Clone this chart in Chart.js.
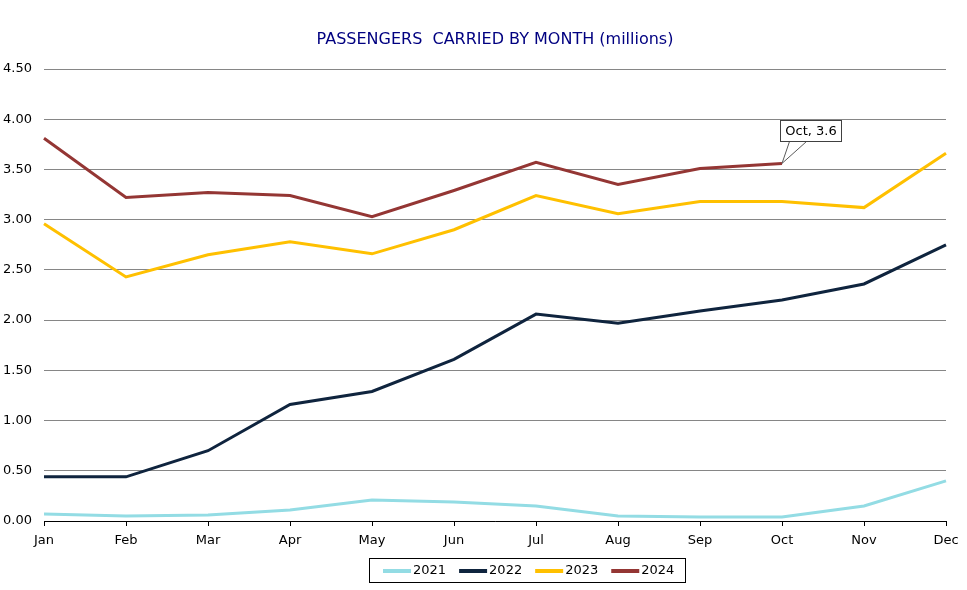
<!DOCTYPE html>
<html>
<head>
<meta charset="utf-8">
<script src="https://cdn.jsdelivr.net/npm/chart.js@4/dist/chart.umd.min.js"></script>
<style>
  html, body { margin: 0; padding: 0; background: #ffffff; }
  #wrap { width: 967px; height: 590px; position: relative; }
</style>
</head>
<body>
<div id="wrap"><canvas id="c" width="967" height="590"></canvas></div>
<script>
const months = ['Jan','Feb','Mar','Apr','May','Jun','Jul','Aug','Sep','Oct','Nov','Dec'];
const seriesNames = ['2021', '2022', '2023', '2024'];
const series2021 = [0.07, 0.05, 0.06, 0.11, 0.21, 0.19, 0.15, 0.05, 0.04, 0.04, 0.15, 0.40];
const series2022 = [0.44, 0.44, 0.70, 1.16, 1.29, 1.61, 2.06, 1.97, 2.09, 2.20, 2.36, 2.75];
const series2023 = [2.96, 2.43, 2.65, 2.78, 2.66, 2.90, 3.24, 3.06, 3.18, 3.18, 3.12, 3.66];
const series2024 = [3.81, 3.22, 3.27, 3.24, 3.03, 3.29, 3.57, 3.35, 3.51, 3.56];
const yTicks = [0, 0.5, 1, 1.5, 2, 2.5, 3, 3.5, 4, 4.5];
const titleText = 'PASSENGERS  CARRIED BY MONTH (millions)';
const calloutIndex = 9;

const FONT = 'Verdana, "DejaVu Sans", sans-serif';

const titlePlugin = {
  id: 'customTitle',
  afterDraw(chart) {
    const ctx = chart.ctx;
    ctx.save();
    ctx.font = '16px ' + FONT;
    ctx.fillStyle = '#000080';
    ctx.textAlign = 'center';
    ctx.textBaseline = 'middle';
    ctx.fillText(titleText, 495, 40);
    ctx.restore();
  }
};

const legendPlugin = {
  id: 'customLegend',
  afterDraw(chart) {
    const ctx = chart.ctx;
    ctx.save();
    ctx.font = '13px ' + FONT;
    ctx.textBaseline = 'middle';
    ctx.textAlign = 'left';
    let x = 383;
    const cy = 571;
    const items = chart.data.datasets.map(d => ({ label: d.label, color: d.borderColor }));
    items.forEach(it => {
      ctx.fillStyle = it.color;
      ctx.fillRect(x, cy - 2, 28, 4);
      ctx.fillStyle = '#000000';
      ctx.fillText(it.label, x + 30, cy);
      x += 30 + ctx.measureText(it.label).width + 13;
    });
    ctx.strokeStyle = '#000000';
    ctx.lineWidth = 1;
    ctx.strokeRect(369.5, 558.5, 316, 24);
    ctx.restore();
  }
};

const calloutPlugin = {
  id: 'callout',
  afterDatasetsDraw(chart) {
    const xs = chart.scales.x, ys = chart.scales.y;
    const v = series2024[calloutIndex];
    const px = xs.getPixelForValue(calloutIndex);
    const py = ys.getPixelForValue(v);
    const text = months[calloutIndex] + ', ' + (Math.round(v * 10) / 10).toFixed(1);
    const ctx = chart.ctx;
    ctx.save();
    ctx.font = '13px ' + FONT;
    const tw = ctx.measureText(text).width;
    const bw = Math.round(tw + 10), bh = 21;
    const bl = Math.round(px - 2) + 0.5, bb = Math.round(py - 22) + 0.5, bt = bb - bh;
    ctx.strokeStyle = '#5a5a5a';
    ctx.lineWidth = 1;
    ctx.beginPath();
    ctx.moveTo(bl + 9, bb);
    ctx.lineTo(px, py);
    ctx.lineTo(bl + 26, bb);
    ctx.stroke();
    ctx.fillStyle = '#ffffff';
    ctx.fillRect(bl, bt, bw, bh);
    ctx.strokeStyle = '#404040';
    ctx.strokeRect(bl, bt, bw, bh);
    ctx.fillStyle = '#000000';
    ctx.textAlign = 'center';
    ctx.textBaseline = 'middle';
    ctx.fillText(text, bl + bw / 2, bt + bh / 2 + 1);
    ctx.restore();
  }
};

const colors = ['#93DCE4', '#0F243E', '#FFC000', '#943634'];
const allSeries = [series2021, series2022, series2023, series2024];

new Chart(document.getElementById('c'), {
  type: 'line',
  data: {
    labels: months,
    datasets: allSeries.map((s, i) => ({
      label: seriesNames[i], data: s, borderColor: colors[i], backgroundColor: colors[i],
      borderWidth: 3, pointRadius: 0, pointHoverRadius: 0, tension: 0, fill: false
    }))
  },
  options: {
    responsive: false,
    animation: false,
    events: [],
    layout: { padding: { left: 3, right: 21, top: 69, bottom: 39 } },
    plugins: {
      title: { display: false },
      legend: { display: false },
      tooltip: { enabled: false }
    },
    scales: {
      x: {
        offset: false,
        grid: { display: true, drawOnChartArea: false, drawTicks: true, tickLength: 5, color: '#000000' },
        border: { display: true, color: '#000000', width: 1 },
        ticks: { color: '#000000', font: { family: FONT, size: 13 }, maxRotation: 0, autoSkip: false, padding: 7 },
        afterFit(s) { s.height = 30; }
      },
      y: {
        min: 0, max: 4.5,
        afterBuildTicks(s) { s.ticks = yTicks.map(v => ({ value: v })); },
        grid: { color: '#868686', lineWidth: 1, drawTicks: false },
        border: { display: false },
        ticks: {
          color: '#000000',
          font: { family: FONT, size: 13 },
          crossAlign: 'far',
          padding: 6,
          callback: v => Number(v).toFixed(2)
        },
        afterFit(s) { s.width = 41; }
      }
    }
  },
  plugins: [calloutPlugin, titlePlugin, legendPlugin]
});
</script>
</body>
</html>
